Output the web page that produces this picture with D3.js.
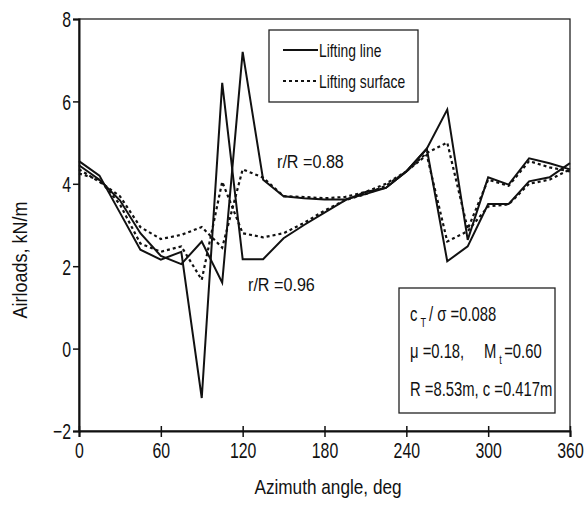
<!DOCTYPE html>
<html>
<head>
<meta charset="utf-8">
<script src="https://cdn.jsdelivr.net/npm/d3@7"></script>
<style>
  html, body { margin: 0; padding: 0; background: #fff; }
  svg text { font-family: "Liberation Sans", Arial, sans-serif; fill: #111; }
</style>
</head>
<body>
<svg id="chart" width="586" height="508"></svg>
<script>
// Azimuth stations, deg
const azimuth = [0, 15, 30, 45, 60, 75, 90, 105, 120, 135, 150, 165, 180,
                 195, 210, 225, 240, 255, 270, 285, 300, 315, 330, 345, 360];

// Lifting line, r/R = 0.88
const liftingLine088 = [4.45, 4.1, 3.6, 2.8, 2.25, 2.05, 2.6, 1.6, 7.2, 4.1, 3.7, 3.65, 3.62,
                        3.62, 3.75, 3.9, 4.3, 4.85, 5.8, 2.64, 4.16, 3.98, 4.62, 4.5, 4.35];
// Lifting line, r/R = 0.96
const liftingLine096 = [4.55, 4.2, 3.3, 2.4, 2.16, 2.35, -1.2, 6.45, 2.17, 2.17, 2.68, 3.0, 3.3,
                        3.6, 3.8, 3.9, 4.3, 4.85, 2.12, 2.48, 3.51, 3.51, 4.06, 4.16, 4.5];
// Lifting surface, r/R = 0.88
const liftingSurface088 = [4.35, 4.05, 3.7, 2.95, 2.66, 2.76, 2.95, 2.45, 4.35, 4.15, 3.7, 3.68, 3.65,
                           3.68, 3.8, 4.0, 4.3, 4.75, 5.0, 2.9, 4.1, 3.95, 4.55, 4.4, 4.3];
// Lifting surface, r/R = 0.96
const liftingSurface096 = [4.25, 4.1, 3.5, 2.55, 2.35, 2.48, 1.67, 4.05, 2.8, 2.7, 2.8, 3.05, 3.35,
                           3.6, 3.75, 3.95, 4.3, 4.7, 2.6, 2.85, 3.45, 3.5, 4.0, 4.1, 4.35];

const xTicks = [0, 60, 120, 180, 240, 300, 360];
const yTicks = [-2, 0, 2, 4, 6, 8];
const legendLabels = ["Lifting line", "Lifting surface"];

const svg = d3.select("#chart");
const plotL = 79, plotR = 570, plotT = 19, plotB = 431;

const x = d3.scaleLinear().domain([0, 360]).range([plotL, plotR]);
const y = d3.scaleLinear().domain([-2, 8]).range([plotB, plotT]);

// Narrow type: draw text horizontally compressed around its anchor point
function label(parent, px, py, str, size, sx, anchor = "start", rot = 0) {
  const g = parent.append("g").attr("transform", `translate(${px},${py}) rotate(${rot}) scale(${sx},1)`);
  const t = g.append("text").attr("font-size", size).attr("text-anchor", anchor);
  if (str !== null) t.text(str);
  return t;
}

// Frame
svg.append("rect")
  .attr("x", plotL).attr("y", plotT)
  .attr("width", plotR - plotL).attr("height", plotB - plotT)
  .attr("fill", "none").attr("stroke", "#222").attr("stroke-width", 1.3);

// Axes
const tickSX = 0.72;
const xAxis = d3.axisBottom(x).tickValues(xTicks).tickSize(6).tickPadding(5);
const yAxis = d3.axisLeft(y).tickValues(yTicks).tickSize(6).tickPadding(2);

const gx = svg.append("g").attr("transform", `translate(0,${plotB})`).call(xAxis);
const gy = svg.append("g").attr("transform", `translate(${plotL},0)`).call(yAxis);
[gx, gy].forEach(g => {
  g.select(".domain").attr("stroke", "#111").attr("stroke-width", 2);
  g.selectAll(".tick line").attr("stroke", "#111").attr("stroke-width", 1.5);
  g.selectAll(".tick text").attr("font-size", 22).attr("fill", "#111")
    .style("font-family", "'Liberation Sans', Arial, sans-serif")
    .attr("transform", `scale(${tickSX},1)`);
});
gx.selectAll(".tick line").attr("y1", -5);
gy.selectAll(".tick text").attr("x", -8 / tickSX).attr("dy", "0.36em");

// Axis titles
label(svg, 328, 494, "Azimuth angle, deg", 20, 0.86, "middle");
label(svg, 27, 260, "Airloads, kN/m", 20, 0.9, "middle", -90);

// Curves
const line = d3.line().x((d, i) => x(azimuth[i])).y(d => y(d));
const solid = { dash: null, width: 2 };
const dotted = { dash: "3,3", width: 2.2 };
[[liftingLine088, solid], [liftingLine096, solid],
 [liftingSurface088, dotted], [liftingSurface096, dotted]].forEach(([vals, st]) => {
  svg.append("path").datum(vals)
    .attr("d", line)
    .attr("fill", "none")
    .attr("stroke", "#111")
    .attr("stroke-width", st.width)
    .attr("stroke-linejoin", "miter")
    .attr("stroke-dasharray", st.dash);
});

// Curve labels
label(svg, 277, 168, "r/R =0.88", 19, 0.85);
label(svg, 248, 291, "r/R =0.96", 19, 0.85);

// Legend
const lg = svg.append("g");
lg.append("rect").attr("x", 269).attr("y", 30).attr("width", 149).attr("height", 72)
  .attr("fill", "#fff").attr("stroke", "#222").attr("stroke-width", 1.3);
[solid, dotted].forEach((st, i) => {
  const ly = 50 + i * 31;
  lg.append("line").attr("x1", 283).attr("x2", 318).attr("y1", ly).attr("y2", ly)
    .attr("stroke", "#111").attr("stroke-width", st.width).attr("stroke-dasharray", st.dash);
  label(lg, 319, ly + 7, legendLabels[i], 18, 0.77);
});

// Rotor parameters box
const ab = svg.append("g");
ab.append("rect").attr("x", 399).attr("y", 288).attr("width", 156).attr("height", 125)
  .attr("fill", "#fff").attr("stroke", "#222").attr("stroke-width", 1.3);
const annSX = 0.76, annSize = 19.5;
const t1 = label(ab, 410, 321, null, annSize, annSX);
t1.append("tspan").text("c");
t1.append("tspan").attr("font-size", 12).attr("dy", 6).attr("dx", 4).text("T");
t1.append("tspan").attr("dy", -6).attr("dx", 4).text("/ σ =0.088");
const t2 = label(ab, 410, 358, null, annSize, annSX);
t2.append("tspan").text("μ =0.18,");
t2.append("tspan").attr("dx", 26).text("M");
t2.append("tspan").attr("font-size", 12).attr("dy", 6).attr("dx", 4).text("t");
t2.append("tspan").attr("dy", -6).attr("dx", 3).text("=0.60");
label(ab, 410, 396, "R =8.53m, c =0.417m", annSize, annSX);
</script>
</body>
</html>
